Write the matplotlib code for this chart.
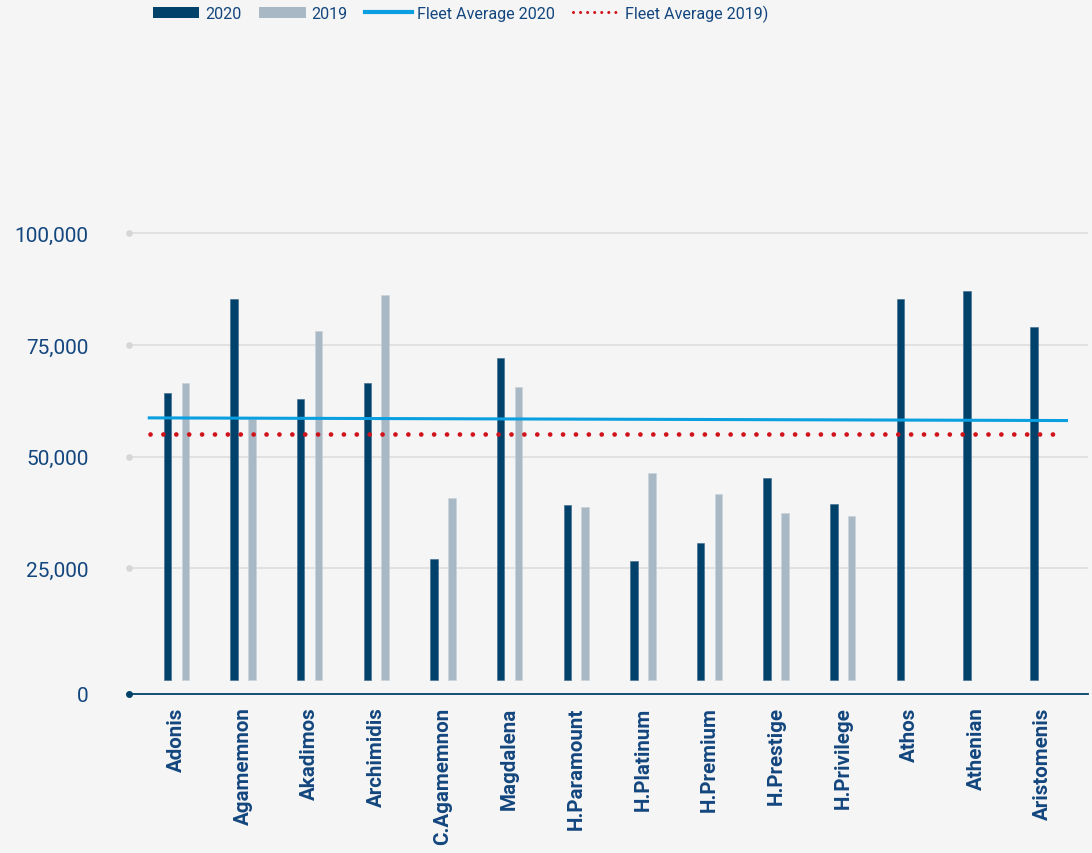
import matplotlib
matplotlib.use("Agg")
import matplotlib.pyplot as plt
from matplotlib.patches import Patch
from matplotlib.lines import Line2D
import numpy as np

plt.rcParams['font.family'] = ['Roboto', 'DejaVu Sans']

categories = ["Adonis", "Agamemnon", "Akadimos", "Archimidis", "C.Agamemnon",
              "Magdalena", "H.Paramount", "H.Platinum", "H.Premium", "H.Prestige",
              "H.Privilege", "Athos", "Athenian", "Aristomenis"]
values_2020 = [64300, 85200, 62900, 66400, 27200, 72200, 39200, 26700, 30800,
               45200, 39500, 85400, 87100, 79000]
values_2019 = [66500, 58400, 78100, 86300, 40800, 65700, 38700, 46300, 41700,
               37400, 36800, None, None, None]
fleet_avg_2020 = [58700, 58100]   # start / end of the trend line
fleet_avg_2019 = [55200, 55200]
y_ticks = [0, 25000, 50000, 75000, 100000]
y_tick_labels = ["0", "25,000", "50,000", "75,000", "100,000"]
legend_labels = ["2020", "2019", "Fleet Average 2020", "Fleet Average 2019)"]

C_DARK = "#00426a"
C_GREY = "#a8b8c4"
C_BLUE = "#0a9fe0"
C_RED = "#d0121b"
C_TEXT = "#13467e"
C_BG = "#f5f5f5"
C_GRID = "#dddddd"

fig = plt.figure(figsize=(10.92, 8.54), dpi=100, facecolor=C_BG)
ax = fig.add_axes([129/1092, 1-695/854, 959/1092, (695-233)/854])
ax.set_facecolor(C_BG)

x = np.arange(len(categories))
off = 0.134
w = 0.113
ax.bar(x - off, values_2020, width=w, color=C_DARK, edgecolor="#3c6a8c", linewidth=0.4, zorder=3)
x19 = [xi + off for xi, v in zip(x, values_2019) if v is not None]
v19 = [v for v in values_2019 if v is not None]
ax.bar(x19, v19, width=w, color=C_GREY, edgecolor="#c9d3da", linewidth=0.4, zorder=3)

x_line = [-0.43, len(categories) - 0.62]
ax.plot(x_line, fleet_avg_2020, color=C_BLUE, lw=2.2, zorder=4, solid_capstyle='butt')
ax.plot([-0.40, len(categories) - 0.66], fleet_avg_2019, color=C_RED, lw=3.4,
        linestyle=(0, (0.01, 2.72)), dash_capstyle='round', zorder=4)

y_floor = -3100
ax.set_ylim(y_floor, 100300)
ax.set_xlim(-0.711, 13.68)

# gridlines
for t in y_ticks[1:]:
    ax.axhline(t, color=C_GRID, lw=1.2, zorder=1)
tick_pos = [y_floor] + y_ticks[1:]
ax.set_yticks(tick_pos)
ax.set_yticklabels(y_tick_labels, fontsize=15, color=C_TEXT)
ax.tick_params(axis='y', length=0, pad=29)
ax.scatter([ax.get_xlim()[0]] * 4, y_ticks[1:], s=14, color="#d6d6d6", zorder=5, clip_on=False)
ax.scatter([ax.get_xlim()[0]], [y_floor], s=16, color=C_DARK, zorder=6, clip_on=False)

ax.set_xticks(x)
ax.set_xticklabels(categories, rotation=90, fontsize=14.8, fontweight='bold', color=C_TEXT,
                   va='top', ha='center')
ax.tick_params(axis='x', length=0, pad=9)

for s in ['top', 'right', 'left']:
    ax.spines[s].set_visible(False)
ax.spines['bottom'].set_color(C_DARK)
ax.spines['bottom'].set_linewidth(1.3)

handles = [Patch(facecolor=C_DARK), Patch(facecolor=C_GREY),
           Line2D([], [], color=C_BLUE, lw=3),
           Line2D([], [], color=C_RED, lw=2.2, linestyle=(0, (0.01, 2.3)), dash_capstyle='round')]
fig.legend(handles, legend_labels, loc='center left', bbox_to_anchor=(138/1092, 1-14/854),
           ncol=4, frameon=False, fontsize=11.6, handlelength=2.9, handletextpad=0.35,
           columnspacing=1.1, labelcolor=C_TEXT)

fig.savefig("out.png", dpi=100, facecolor=C_BG)
